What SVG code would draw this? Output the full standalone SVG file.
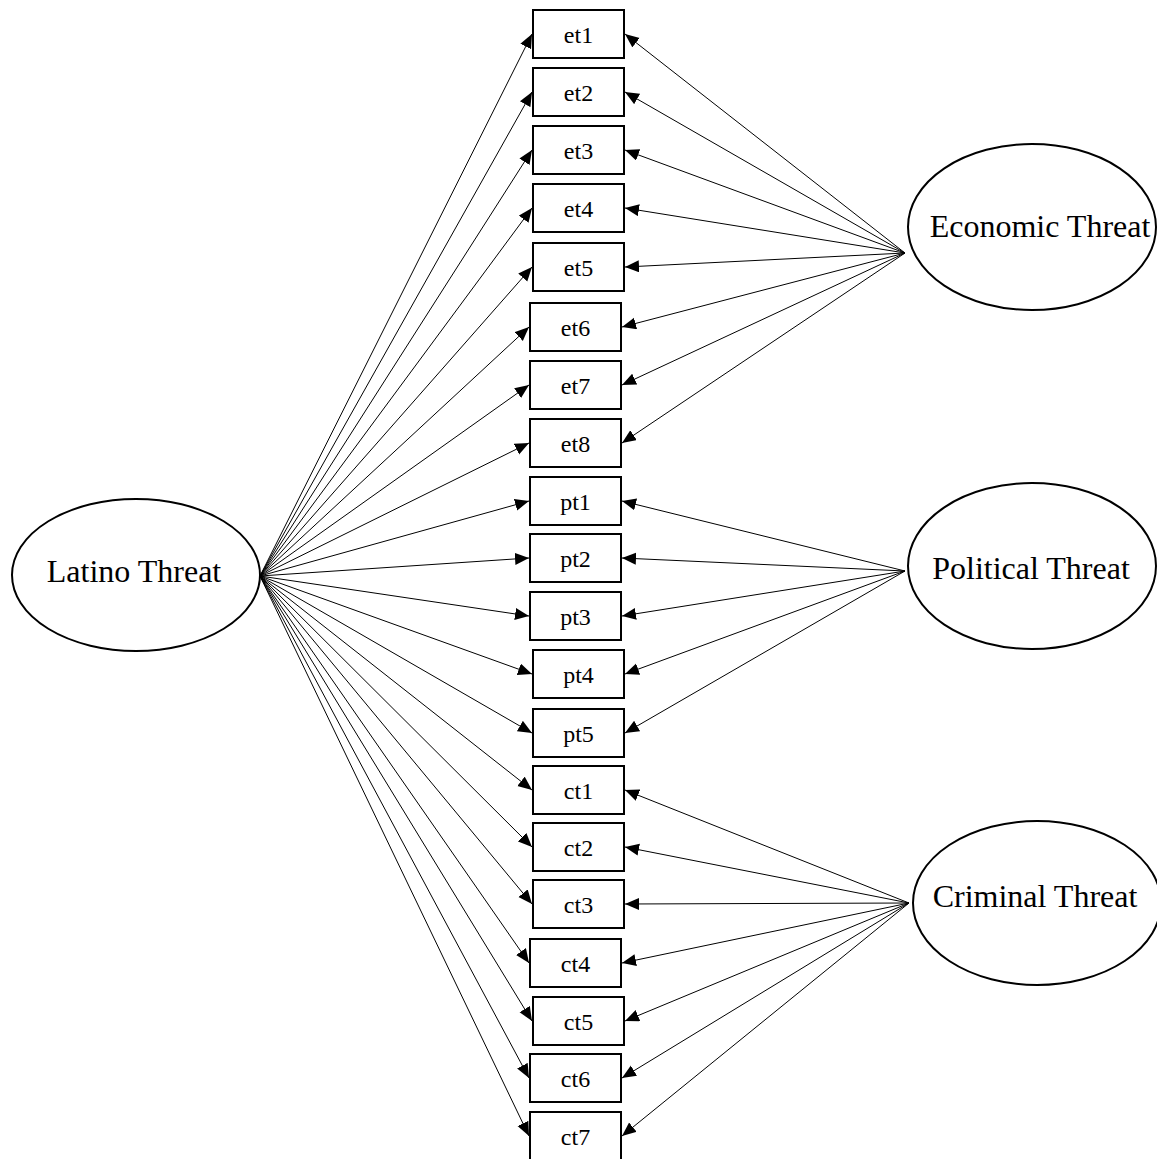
<svg xmlns="http://www.w3.org/2000/svg" width="1157" height="1159" viewBox="0 0 1157 1159">
<style>
.box{fill:#fff;stroke:#000;stroke-width:2}
.ell{fill:#fff;stroke:#000;stroke-width:2}
.lbl{font-family:"Liberation Serif","Times New Roman",serif;font-size:24px;text-anchor:middle;fill:#000}
.big{font-family:"Liberation Serif","Times New Roman",serif;font-size:32px;text-anchor:middle;fill:#000}
#connectors line{stroke:#000;stroke-width:1;marker-end:url(#ah)}
</style>
<defs>
<marker id="ah" markerUnits="userSpaceOnUse" markerWidth="16" markerHeight="13" refX="14" refY="6" orient="auto">
<path d="M0,0 L14,6 L0,12 Z" fill="#000"/>
</marker>
</defs>
<rect width="1157" height="1159" fill="#fff"/>
<g id="connectors">
<line x1="260" y1="576" x2="532" y2="34"/>
<line x1="260" y1="576" x2="532" y2="92"/>
<line x1="260" y1="576" x2="532" y2="150"/>
<line x1="260" y1="576" x2="532" y2="208"/>
<line x1="260" y1="576" x2="532" y2="267"/>
<line x1="260" y1="576" x2="529" y2="327"/>
<line x1="260" y1="576" x2="529" y2="385"/>
<line x1="260" y1="576" x2="529" y2="443"/>
<line x1="260" y1="576" x2="529" y2="501"/>
<line x1="260" y1="576" x2="529" y2="558"/>
<line x1="260" y1="576" x2="529" y2="616"/>
<line x1="260" y1="576" x2="532" y2="674"/>
<line x1="260" y1="576" x2="532" y2="733"/>
<line x1="260" y1="576" x2="532" y2="790"/>
<line x1="260" y1="576" x2="532" y2="847"/>
<line x1="260" y1="576" x2="532" y2="904"/>
<line x1="260" y1="576" x2="529" y2="963"/>
<line x1="260" y1="576" x2="532" y2="1021"/>
<line x1="260" y1="576" x2="529" y2="1078"/>
<line x1="260" y1="576" x2="529" y2="1136"/>
<line x1="905" y1="253" x2="625" y2="34"/>
<line x1="905" y1="253" x2="625" y2="92"/>
<line x1="905" y1="253" x2="625" y2="150"/>
<line x1="905" y1="253" x2="625" y2="208"/>
<line x1="905" y1="253" x2="625" y2="267"/>
<line x1="905" y1="253" x2="622" y2="327"/>
<line x1="905" y1="253" x2="622" y2="385"/>
<line x1="905" y1="253" x2="622" y2="443"/>
<line x1="905" y1="571" x2="622" y2="501"/>
<line x1="905" y1="571" x2="622" y2="558"/>
<line x1="905" y1="571" x2="622" y2="616"/>
<line x1="905" y1="571" x2="625" y2="674"/>
<line x1="905" y1="571" x2="625" y2="733"/>
<line x1="909" y1="903" x2="625" y2="790"/>
<line x1="909" y1="903" x2="625" y2="847"/>
<line x1="909" y1="903" x2="625" y2="904"/>
<line x1="909" y1="903" x2="622" y2="963"/>
<line x1="909" y1="903" x2="625" y2="1021"/>
<line x1="909" y1="903" x2="622" y2="1078"/>
<line x1="909" y1="903" x2="622" y2="1136"/>
</g>
<g id="latino"><ellipse class="ell" cx="136" cy="575" rx="124" ry="76"/><text class="big" x="134" y="582">Latino Threat</text></g>
<g id="economic"><ellipse class="ell" cx="1032" cy="227" rx="124" ry="83"/><text class="big" x="1040" y="237">Economic Threat</text></g>
<g id="political"><ellipse class="ell" cx="1032" cy="566" rx="124" ry="83"/><text class="big" x="1031" y="579">Political Threat</text></g>
<g id="criminal"><ellipse class="ell" cx="1037" cy="903" rx="124" ry="82"/><text class="big" x="1035" y="907">Criminal Threat</text></g>
<g id="et1"><rect class="box" x="533" y="10" width="91" height="48"/><text class="lbl" x="578.5" y="42.5">et1</text></g>
<g id="et2"><rect class="box" x="533" y="68" width="91" height="48"/><text class="lbl" x="578.5" y="100.5">et2</text></g>
<g id="et3"><rect class="box" x="533" y="126" width="91" height="48"/><text class="lbl" x="578.5" y="158.5">et3</text></g>
<g id="et4"><rect class="box" x="533" y="184" width="91" height="48"/><text class="lbl" x="578.5" y="216.5">et4</text></g>
<g id="et5"><rect class="box" x="533" y="243" width="91" height="48"/><text class="lbl" x="578.5" y="275.5">et5</text></g>
<g id="et6"><rect class="box" x="530" y="303" width="91" height="48"/><text class="lbl" x="575.5" y="335.5">et6</text></g>
<g id="et7"><rect class="box" x="530" y="361" width="91" height="48"/><text class="lbl" x="575.5" y="393.5">et7</text></g>
<g id="et8"><rect class="box" x="530" y="419" width="91" height="48"/><text class="lbl" x="575.5" y="451.5">et8</text></g>
<g id="pt1"><rect class="box" x="530" y="477" width="91" height="48"/><text class="lbl" x="575.5" y="509.5">pt1</text></g>
<g id="pt2"><rect class="box" x="530" y="534" width="91" height="48"/><text class="lbl" x="575.5" y="566.5">pt2</text></g>
<g id="pt3"><rect class="box" x="530" y="592" width="91" height="48"/><text class="lbl" x="575.5" y="624.5">pt3</text></g>
<g id="pt4"><rect class="box" x="533" y="650" width="91" height="48"/><text class="lbl" x="578.5" y="682.5">pt4</text></g>
<g id="pt5"><rect class="box" x="533" y="709" width="91" height="48"/><text class="lbl" x="578.5" y="741.5">pt5</text></g>
<g id="ct1"><rect class="box" x="533" y="766" width="91" height="48"/><text class="lbl" x="578.5" y="798.5">ct1</text></g>
<g id="ct2"><rect class="box" x="533" y="823" width="91" height="48"/><text class="lbl" x="578.5" y="855.5">ct2</text></g>
<g id="ct3"><rect class="box" x="533" y="880" width="91" height="48"/><text class="lbl" x="578.5" y="912.5">ct3</text></g>
<g id="ct4"><rect class="box" x="530" y="939" width="91" height="48"/><text class="lbl" x="575.5" y="971.5">ct4</text></g>
<g id="ct5"><rect class="box" x="533" y="997" width="91" height="48"/><text class="lbl" x="578.5" y="1029.5">ct5</text></g>
<g id="ct6"><rect class="box" x="530" y="1054" width="91" height="48"/><text class="lbl" x="575.5" y="1086.5">ct6</text></g>
<g id="ct7"><rect class="box" x="530" y="1112" width="91" height="48"/><text class="lbl" x="575.5" y="1144.5">ct7</text></g>
</svg>
